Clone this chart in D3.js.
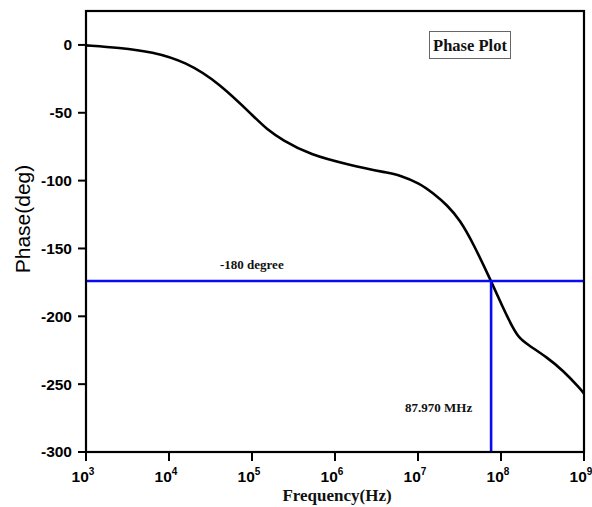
<!DOCTYPE html>
<html>
<head>
<meta charset="utf-8">
<script src="https://cdn.jsdelivr.net/npm/d3@7"></script>
<style>
  html, body { margin: 0; padding: 0; background: #fff; }
  svg { display: block; }
</style>
</head>
<body>
<svg id="chart" width="592" height="507"></svg>
<script>
// Phase response of the amplifier: frequency in Hz, phase in degrees
const freqHz = [1e3, 2.5e3, 6.3e3, 1.6e4, 4e4, 1.1e5, 1.5e5, 2.3e5, 5e5, 1.5e6, 4.5e6, 6e6,
                1.05e7, 1.5e7, 2.25e7, 3.2e7, 4.6e7, 7.6e7, 1.05e8, 1.4e8, 1.66e8, 2.05e8,
                3.55e8, 5.6e8, 8.9e8, 1e9];
const phaseDeg = [-0.3, -2, -5, -12.5, -28, -54, -62, -70, -81, -88.5, -94.5, -96,
                  -102, -109, -118, -129, -146, -174, -193.5, -209, -216, -220.5,
                  -230, -240, -253, -257];

// Axis ticks
const xTickExp = [3, 4, 5, 6, 7, 8, 9];
const yTicks = [0, -50, -100, -150, -200, -250, -300];

// Crossover marker lines and their annotations
const crossPhase = -174;
const crossFreq = 7.6e7;
const phaseLabel = "-180 degree";
const freqLabel = "87.970 MHz";
const legendLabel = "Phase Plot";

const svg = d3.select("#chart");
const plotLeft = 86, plotRight = 584, plotTop = 11, plotBottom = 452;

const x = d3.scaleLog().domain([1e3, 1e9]).range([plotLeft, plotRight]);
const y = d3.scaleLinear().domain([-300, 25]).range([plotBottom, plotTop]);

// Y axis ticks and labels
const yAxis = svg.append("g");
yAxis.selectAll("line").data(yTicks).join("line")
  .attr("x1", plotLeft - 8).attr("x2", plotLeft)
  .attr("y1", d => y(d)).attr("y2", d => y(d))
  .attr("stroke", "#000").attr("stroke-width", 2);
yAxis.selectAll("text").data(yTicks).join("text")
  .attr("x", plotLeft - 14).attr("y", d => y(d))
  .attr("dy", "0.35em").attr("text-anchor", "end")
  .style("font-family", "Arial, 'Liberation Sans', sans-serif")
  .style("font-weight", "bold").style("font-size", "15.5px")
  .text(d => d);

// X axis ticks and labels (powers of ten)
const xAxis = svg.append("g");
xAxis.selectAll("line").data(xTickExp).join("line")
  .attr("x1", d => x(Math.pow(10, d))).attr("x2", d => x(Math.pow(10, d)))
  .attr("y1", plotBottom).attr("y2", plotBottom + 9)
  .attr("stroke", "#000").attr("stroke-width", 2);
const xl = xAxis.selectAll("text").data(xTickExp).join("text")
  .attr("x", d => x(Math.pow(10, d)) - 3).attr("y", 482)
  .attr("text-anchor", "middle")
  .style("font-family", "Arial, 'Liberation Sans', sans-serif")
  .style("font-weight", "bold").style("font-size", "15.5px");
xl.append("tspan").text("10");
xl.append("tspan").attr("dy", -7).style("font-size", "10px").text(d => d);

// Phase curve (smoothed through the sampled points)
const line = d3.line()
  .x((d, i) => x(freqHz[i]))
  .y(d => y(d))
  .curve(d3.curveBasis);
svg.append("path")
  .datum(phaseDeg)
  .attr("d", line)
  .attr("fill", "none")
  .attr("stroke", "#000")
  .attr("stroke-width", 2.6);

// Crossover markers
svg.append("line")
  .attr("x1", x(1e3)).attr("x2", x(1e9))
  .attr("y1", y(crossPhase)).attr("y2", y(crossPhase))
  .attr("stroke", "#0a0af5").attr("stroke-width", 2.6);
svg.append("line")
  .attr("x1", x(crossFreq)).attr("x2", x(crossFreq))
  .attr("y1", y(crossPhase)).attr("y2", y(-300))
  .attr("stroke", "#0a0af5").attr("stroke-width", 2.6);

const serifBold = sel => sel
  .style("font-family", "'Times New Roman', 'Liberation Serif', serif")
  .style("font-weight", "bold");

svg.append("text").attr("x", 220).attr("y", 269)
  .call(serifBold).style("font-size", "13px").attr("fill", "#111")
  .text(phaseLabel);
svg.append("text").attr("x", 405).attr("y", 412)
  .call(serifBold).style("font-size", "13px").attr("fill", "#111")
  .text(freqLabel);

// Frame
svg.append("rect")
  .attr("x", plotLeft).attr("y", plotTop)
  .attr("width", plotRight - plotLeft).attr("height", plotBottom - plotTop)
  .attr("fill", "none").attr("stroke", "#000").attr("stroke-width", 2.2);

// Legend box
svg.append("rect")
  .attr("x", 429.5).attr("y", 31.5).attr("width", 81).attr("height", 27)
  .attr("fill", "#fff").attr("stroke", "#666").attr("stroke-width", 1);
svg.append("text").attr("x", 470).attr("y", 51)
  .attr("text-anchor", "middle")
  .call(serifBold).style("font-size", "16.5px").attr("fill", "#111")
  .text(legendLabel);

// Axis titles
svg.append("text").attr("x", 337).attr("y", 501)
  .attr("text-anchor", "middle")
  .call(serifBold).style("font-size", "17px").attr("fill", "#111")
  .text("Frequency(Hz)");
svg.append("text")
  .attr("transform", "translate(30,219) rotate(-90)")
  .attr("text-anchor", "middle")
  .style("font-family", "Arial, 'Liberation Sans', sans-serif")
  .style("font-size", "21px")
  .text("Phase(deg)");
</script>
</body>
</html>
